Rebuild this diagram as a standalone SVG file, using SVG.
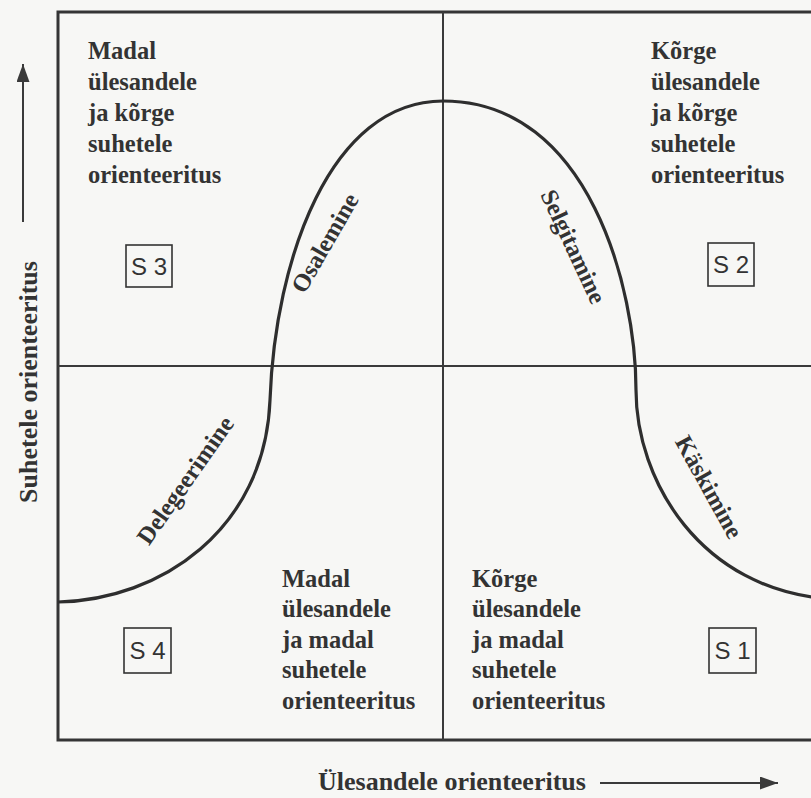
<svg xmlns="http://www.w3.org/2000/svg" width="811" height="798" viewBox="0 0 811 798">
<defs>
<style>
.bg{fill:#f7f7f5}
.frame{fill:none;stroke:#353535;stroke-width:3}
.div{fill:none;stroke:#3a3a3a;stroke-width:2}
.curve{fill:none;stroke:#2e2e2e;stroke-width:3.2}
.t{font-family:"Liberation Serif","Times New Roman",serif;font-weight:bold;font-size:24.5px;fill:#333}
.ax{font-family:"Liberation Serif","Times New Roman",serif;font-weight:bold;font-size:26px;fill:#333}
.c{font-family:"Liberation Serif","Times New Roman",serif;font-weight:bold;font-size:24.5px;fill:#333}
.sbox{fill:none;stroke:#333;stroke-width:1.6}
.s{font-family:"Liberation Sans",Arial,sans-serif;font-size:24px;fill:#333;text-anchor:middle}
.axl{stroke:#3a3a3a;stroke-width:2}
</style>
<marker id="ah" viewBox="0 0 18 13" refX="18" refY="6.5" markerWidth="18" markerHeight="13" orient="auto" markerUnits="userSpaceOnUse">
<path d="M0,0 L18,6.5 L0,13 z" fill="#3a3a3a"/>
</marker>
</defs>
<rect class="bg" x="0" y="0" width="811" height="798"/>

<g id="frame">
<rect class="frame" x="58" y="12" width="800" height="728"/>
<line class="div" x1="443" y1="12" x2="443" y2="740"/>
<line class="div" x1="58" y1="366" x2="811" y2="366"/>
</g>

<g id="curve">
<path class="curve" d="M58,602 C160,600 265,530 270,400 C275,260 330,101 443,101 C590,101 636,290 636,390 C636,480 700,590 830,599"/>
</g>

<g id="q-top-left">
<text class="t" x="88" y="59">Madal</text>
<text class="t" x="88" y="90">ülesandele</text>
<text class="t" x="88" y="121">ja kõrge</text>
<text class="t" x="88" y="152">suhetele</text>
<text class="t" x="88" y="183">orienteeritus</text>
</g>

<g id="q-top-right">
<text class="t" x="651" y="59">Kõrge</text>
<text class="t" x="651" y="90">ülesandele</text>
<text class="t" x="651" y="121">ja kõrge</text>
<text class="t" x="651" y="152">suhetele</text>
<text class="t" x="651" y="183">orienteeritus</text>
</g>

<g id="q-bottom-left">
<text class="t" x="282" y="587">Madal</text>
<text class="t" x="282" y="617">ülesandele</text>
<text class="t" x="282" y="648">ja madal</text>
<text class="t" x="282" y="678">suhetele</text>
<text class="t" x="282" y="709">orienteeritus</text>
</g>

<g id="q-bottom-right">
<text class="t" x="472" y="587">Kõrge</text>
<text class="t" x="472" y="617">ülesandele</text>
<text class="t" x="472" y="648">ja madal</text>
<text class="t" x="472" y="678">suhetele</text>
<text class="t" x="472" y="709">orienteeritus</text>
</g>

<g id="s3"><rect class="sbox" x="126" y="245" width="46" height="42"/><text class="s" x="149" y="275">S 3</text></g>
<g id="s2"><rect class="sbox" x="708" y="243" width="46" height="43"/><text class="s" x="731" y="273">S 2</text></g>
<g id="s4"><rect class="sbox" x="124" y="628" width="47" height="45"/><text class="s" x="147.5" y="659">S 4</text></g>
<g id="s1"><rect class="sbox" x="709" y="628" width="47" height="45"/><text class="s" x="732.5" y="659">S 1</text></g>

<g id="curve-labels">
<text class="c" text-anchor="middle" transform="translate(332,247) rotate(-60)">Osalemine</text>
<text class="c" text-anchor="middle" transform="translate(566,250) rotate(65)">Selgitamine</text>
<text class="c" text-anchor="middle" transform="translate(192,485) rotate(-55)">Delegeerimine</text>
<text class="c" text-anchor="middle" transform="translate(702,491) rotate(61)">Käskimine</text>
</g>

<g id="y-axis">
<text class="ax" text-anchor="middle" transform="translate(37,382) rotate(-90)">Suhetele orienteeritus</text>
</g>
<g id="x-axis">
<text class="ax" x="318" y="790">Ülesandele orienteeritus</text>
</g>

<g id="connectors">
<line class="axl" x1="23" y1="222" x2="23" y2="64" marker-end="url(#ah)"/>
<line class="axl" x1="600" y1="783" x2="778" y2="783" marker-end="url(#ah)"/>
</g>
</svg>
